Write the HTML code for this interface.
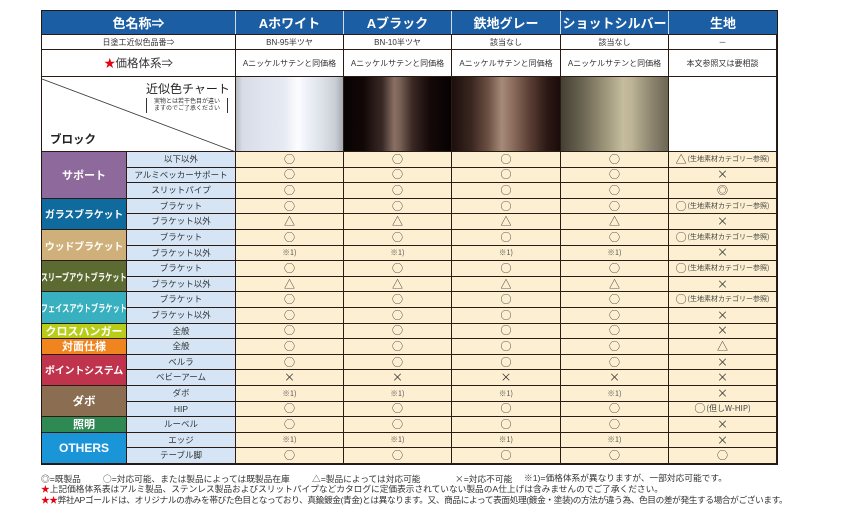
<!DOCTYPE html>
<html><head><meta charset="utf-8">
<style>
*{margin:0;padding:0}
body{width:858px;height:523px;background:#fff;position:relative;overflow:hidden;font-family:"Liberation Sans","Noto Sans CJK JP",sans-serif;color:#333}
.a{position:absolute;box-sizing:border-box;display:flex;align-items:center;justify-content:center;white-space:nowrap}
.h{background:#1b5ea4;color:#fff;font-weight:bold;font-size:13px;border-right:1px solid #cfdcec;top:11px;height:23px}
.w{background:#fff;border-right:1px solid #2a1c14;border-bottom:1px solid #2a1c14;font-size:8px;color:#333}
.r{position:absolute;left:127px;width:650px;height:15.6px}
.r>*{position:absolute;top:0;height:100%;box-sizing:border-box;border-right:1px solid #2a1c14;border-bottom:1px solid #2a1c14;display:flex;align-items:center;justify-content:center;white-space:nowrap;background:#fdf0d2;font-style:normal;font-weight:normal;font-size:11px;color:#333;line-height:1;font-family:"Noto Sans CJK JP",sans-serif}
.r>:nth-child(1){left:0;width:109px;background:#d5e5f5;font-size:8.5px;color:#333;font-family:"Liberation Sans","Noto Sans CJK JP",sans-serif}
.r>:nth-child(2){left:109px;width:108px}
.r>:nth-child(3){left:217px;width:108px}
.r>:nth-child(4){left:325px;width:109px}
.r>:nth-child(5){left:434px;width:108px}
.r>:nth-child(6){left:542px;width:108px}
.r>.n{font-size:7.5px;color:#555}
.r .t{font-size:7px;color:#444;margin-left:1px}
.bl{position:absolute;left:42px;width:85px;box-sizing:border-box;border-right:1px solid #2a1c14;border-bottom:1px solid #2a1c14;display:flex;align-items:center;justify-content:center;color:#fff;font-weight:bold;font-size:10px;white-space:nowrap;overflow:hidden}
.bl span.c{display:inline-block;transform:scaleX(0.72);font-size:10px}
.sw{position:absolute;top:77px;height:75px;box-sizing:border-box;border-right:1px solid #2a1c14;border-bottom:1px solid #2a1c14}
.ft{position:absolute;left:41px;font-size:8.7px;color:#333;white-space:nowrap;line-height:11px}
.ft2{position:absolute;font-size:8.7px;color:#333;white-space:nowrap;line-height:11px;top:473px}
.sy{font-family:"Noto Sans CJK JP",sans-serif}
.red{color:#e60012}
</style></head><body>

<!-- header row -->
<div class="a h" style="left:42px;width:194px">色名称⇒</div>
<div class="a h" style="left:236px;width:108px">Aホワイト</div>
<div class="a h" style="left:344px;width:108px">Aブラック</div>
<div class="a h" style="left:452px;width:109px">鉄地グレー</div>
<div class="a h" style="left:561px;width:108px">ショットシルバー</div>
<div class="a h" style="left:669px;width:108px;border-right:none">生地</div>

<!-- row 2 -->
<div class="a w" style="left:42px;width:194px;top:34px;height:16px;border-top:1px solid #2a1c14">日塗工近似色品番⇒</div>
<div class="a w" style="left:236px;width:108px;top:34px;height:16px;border-top:1px solid #2a1c14">BN-95半ツヤ</div>
<div class="a w" style="left:344px;width:108px;top:34px;height:16px;border-top:1px solid #2a1c14">BN-10半ツヤ</div>
<div class="a w" style="left:452px;width:109px;top:34px;height:16px;border-top:1px solid #2a1c14">該当なし</div>
<div class="a w" style="left:561px;width:108px;top:34px;height:16px;border-top:1px solid #2a1c14">該当なし</div>
<div class="a w" style="left:669px;width:108px;top:34px;height:16px;border-top:1px solid #2a1c14">－</div>

<!-- row 3 -->
<div class="a w" style="left:42px;width:194px;top:50px;height:27px;font-size:11.5px"><span class="red">★</span>価格体系⇒</div>
<div class="a w" style="left:236px;width:108px;top:50px;height:27px">Aニッケルサテンと同価格</div>
<div class="a w" style="left:344px;width:108px;top:50px;height:27px">Aニッケルサテンと同価格</div>
<div class="a w" style="left:452px;width:109px;top:50px;height:27px">Aニッケルサテンと同価格</div>
<div class="a w" style="left:561px;width:108px;top:50px;height:27px">Aニッケルサテンと同価格</div>
<div class="a w" style="left:669px;width:108px;top:50px;height:27px">本文参照又は要相談</div>

<!-- image row -->
<div class="sw" style="left:42px;width:194px;background:#fff"></div>
<svg style="position:absolute;left:0;top:0" width="858" height="523"><line x1="42" y1="79" x2="236" y2="152" stroke="#333" stroke-width="0.8"/></svg>
<div style="position:absolute;left:146px;top:83px;font-size:12px;line-height:1;color:#222;white-space:nowrap">近似色チャート</div>
<div style="position:absolute;left:146px;top:98px;width:82px;height:15px;border-left:1px solid #333;border-right:1px solid #333;font-size:6px;line-height:7px;color:#333;text-align:center;white-space:nowrap;box-sizing:border-box;padding-top:0.5px">実物とは若干色目が違い<br>ますのでご了承ください</div>
<div style="position:absolute;left:50px;top:135px;font-size:11.5px;line-height:1;font-weight:bold;color:#222">ブロック</div>

<div class="sw" style="left:236px;width:108px;background:linear-gradient(90deg,#b8bcc4 0%,#d8dce6 6%,#dfe4ee 25%,#e6eaf2 45%,#fdfdff 58%,#eef1f7 66%,#dde2ea 80%,#c9cdd4 93%,#a4a8b0 100%)"></div>
<div class="sw" style="left:344px;width:108px;background:linear-gradient(90deg,#080304 0%,#120707 18%,#3a2a26 36%,#8a7064 47%,#7a6256 52%,#3a2824 64%,#150909 80%,#050202 100%)"></div>
<div class="sw" style="left:452px;width:109px;background:linear-gradient(90deg,#1c0f0c 0%,#3a2620 18%,#6e5244 34%,#a68a78 46%,#8c6e5e 56%,#5a3e34 72%,#2c1814 88%,#1a0c0a 100%)"></div>
<div class="sw" style="left:561px;width:108px;background:linear-gradient(90deg,#454033 0%,#6a6452 20%,#9a9278 40%,#c4bc9c 58%,#bcb494 66%,#8e8670 84%,#6c6654 100%)"></div>
<div class="sw" style="left:669px;width:108px;background:#fff"></div>

<!-- block labels -->
<div class="bl" style="top:152px;height:46.8px;background:#8e6a9c;font-size:11px">サポート</div>
<div class="bl" style="top:198.8px;height:31.2px;background:#0f6a9e;letter-spacing:-0.2px">ガラスブラケット</div>
<div class="bl" style="top:230px;height:31.2px;background:#cfb07a;letter-spacing:-0.2px">ウッドブラケット</div>
<div class="bl" style="top:261.2px;height:31.2px;background:#5c6b32"><span class="c">スリーブアウトブラケット</span></div>
<div class="bl" style="top:292.4px;height:31.2px;background:#38b0c0"><span class="c">フェイスアウトブラケット</span></div>
<div class="bl" style="top:323.6px;height:15.6px;background:#b8cc1a;font-size:11px">クロスハンガー</div>
<div class="bl" style="top:339.2px;height:15.6px;background:#f0841e;font-size:11px">対面仕様</div>
<div class="bl" style="top:354.8px;height:31.2px;background:#c0334d;letter-spacing:-0.2px">ポイントシステム</div>
<div class="bl" style="top:386px;height:31.2px;background:#8b6d52;font-size:11.5px">ダボ</div>
<div class="bl" style="top:417.2px;height:15.6px;background:#2e8a52;font-size:11px">照明</div>
<div class="bl" style="top:432.8px;height:31.2px;background:#1a96d8;font-size:12px">OTHERS</div>

<!-- data rows -->
<div class="r" style="top:152px"><i>以下以外</i><i>○</i><i>○</i><i>○</i><i>○</i><i>△<span class="t">(生地素材カテゴリー参照)</span></i></div>
<div class="r" style="top:167.6px"><i>アルミベッカーサポート</i><i>○</i><i>○</i><i>○</i><i>○</i><i>×</i></div>
<div class="r" style="top:183.2px"><i>スリットパイプ</i><i>○</i><i>○</i><i>○</i><i>○</i><i>◎</i></div>
<div class="r" style="top:198.8px"><i>ブラケット</i><i>○</i><i>○</i><i>○</i><i>○</i><i>○<span class="t">(生地素材カテゴリー参照)</span></i></div>
<div class="r" style="top:214.4px"><i>ブラケット以外</i><i>△</i><i>△</i><i>△</i><i>△</i><i>×</i></div>
<div class="r" style="top:230px"><i>ブラケット</i><i>○</i><i>○</i><i>○</i><i>○</i><i>○<span class="t">(生地素材カテゴリー参照)</span></i></div>
<div class="r" style="top:245.6px"><i>ブラケット以外</i><i class="n">※1)</i><i class="n">※1)</i><i class="n">※1)</i><i class="n">※1)</i><i>×</i></div>
<div class="r" style="top:261.2px"><i>ブラケット</i><i>○</i><i>○</i><i>○</i><i>○</i><i>○<span class="t">(生地素材カテゴリー参照)</span></i></div>
<div class="r" style="top:276.8px"><i>ブラケット以外</i><i>△</i><i>△</i><i>△</i><i>△</i><i>×</i></div>
<div class="r" style="top:292.4px"><i>ブラケット</i><i>○</i><i>○</i><i>○</i><i>○</i><i>○<span class="t">(生地素材カテゴリー参照)</span></i></div>
<div class="r" style="top:308px"><i>ブラケット以外</i><i>○</i><i>○</i><i>○</i><i>○</i><i>×</i></div>
<div class="r" style="top:323.6px"><i>全般</i><i>○</i><i>○</i><i>○</i><i>○</i><i>×</i></div>
<div class="r" style="top:339.2px"><i>全般</i><i>○</i><i>○</i><i>○</i><i>○</i><i>△</i></div>
<div class="r" style="top:354.8px"><i>ベルラ</i><i>○</i><i>○</i><i>○</i><i>○</i><i>×</i></div>
<div class="r" style="top:370.4px"><i>ベビーアーム</i><i>×</i><i>×</i><i>×</i><i>×</i><i>×</i></div>
<div class="r" style="top:386px"><i>ダボ</i><i class="n">※1)</i><i class="n">※1)</i><i class="n">※1)</i><i class="n">※1)</i><i>×</i></div>
<div class="r" style="top:401.6px"><i>HIP</i><i>○</i><i>○</i><i>○</i><i>○</i><i>○<span class="t" style="font-size:8px">(但しW-HIP)</span></i></div>
<div class="r" style="top:417.2px"><i>ルーベル</i><i>○</i><i>○</i><i>○</i><i>○</i><i>×</i></div>
<div class="r" style="top:432.8px"><i>エッジ</i><i class="n">※1)</i><i class="n">※1)</i><i class="n">※1)</i><i class="n">※1)</i><i>×</i></div>
<div class="r" style="top:448.4px"><i>テーブル脚</i><i>○</i><i>○</i><i>○</i><i>○</i><i>○</i></div>

<!-- outer border -->
<div style="position:absolute;left:41px;top:10px;width:737px;height:455px;border:1.5px solid #231815;box-sizing:border-box;pointer-events:none"></div>

<!-- footer line 1 -->
<div class="ft2" style="left:41px"><span class="sy">◎</span>=既製品</div>
<div class="ft2" style="left:103px"><span class="sy">○</span>=対応可能、または製品によっては既製品在庫</div>
<div class="ft2" style="left:312px"><span class="sy">△</span>=製品によっては対応可能</div>
<div class="ft2" style="left:455px"><span class="sy">×</span>=対応不可能</div>
<div class="ft2" style="left:524px">※1)=価格体系が異なりますが、一部対応可能です。</div>
<div class="ft" style="top:484px"><span class="red">★</span>上記価格体系表はアルミ製品、ステンレス製品およびスリットパイプなどカタログに定価表示されていない製品のA仕上げは含みませんのでご了承ください。</div>
<div class="ft" style="top:495px;letter-spacing:-0.4px"><span class="red">★★</span>弊社APゴールドは、オリジナルの赤みを帯びた色目となっており、真鍮鍍金(青金)とは異なります。又、商品によって表面処理(鍍金・塗装)の方法が違う為、色目の差が発生する場合がございます。</div>

</body></html>
